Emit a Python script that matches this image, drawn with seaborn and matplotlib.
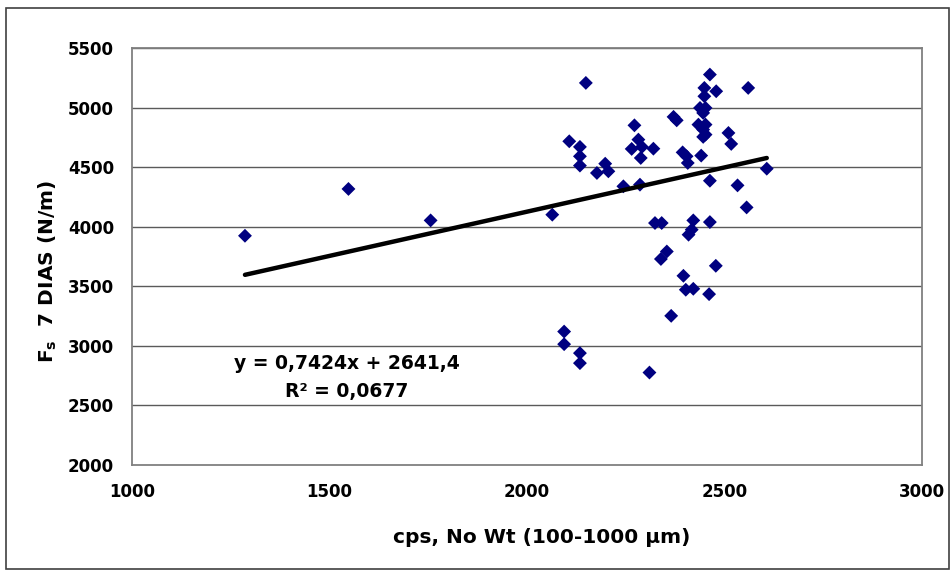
import matplotlib
matplotlib.use("Agg")
import matplotlib.pyplot as plt
import matplotlib.patches as mpatches
import numpy as np
import pandas as pd
import seaborn as sns

# ---- data ----
cps = [1286, 1548, 1756, 2064,
       2149, 2107, 2134, 2134, 2134, 2177, 2198, 2206, 2244, 2286,
       2272, 2282, 2265, 2291, 2320, 2288, 2324, 2341, 2354, 2339,
       2396, 2402, 2421, 2461, 2478, 2365, 2094, 2094, 2134, 2134,
       2310, 2421, 2417, 2409, 2463, 2463, 2533, 2556, 2607, 2560,
       2463, 2449, 2479, 2449, 2438, 2452, 2446, 2371, 2379, 2434,
       2452, 2446, 2452, 2446, 2510, 2517, 2394, 2404, 2407, 2441]
fs7 = [3924, 4317, 4053, 4101,
       5207, 4717, 4670, 4591, 4513, 4451, 4529, 4465, 4339, 4353,
       4851, 4731, 4653, 4670, 4655, 4577, 4031, 4031, 3792, 3729,
       3588, 3471, 3479, 3434, 3672, 3252, 3120, 3014, 2939, 2855,
       2776, 4053, 3975, 3933, 4039, 4386, 4347, 4162, 4487, 5165,
       5277, 5165, 5137, 5095, 4997, 4997, 4955, 4922, 4893, 4857,
       4857, 4815, 4773, 4754, 4787, 4695, 4624, 4591, 4535, 4597]
slope = 0.7424
intercept = 2641.4
x_ticks = [1000, 1500, 2000, 2500, 3000]
y_ticks = [2000, 2500, 3000, 3500, 4000, 4500, 5000, 5500]
x_label = "cps, No Wt (100-1000 \u00b5m)"
y_label = r"F$_\mathregular{s}$  7 DIAS (N/m)"
eq_line1 = "y = 0,7424x + 2641,4"
eq_line2 = "R\u00b2 = 0,0677"

df = pd.DataFrame({"cps": cps, "fs": fs7})

sns.set_style("white")
plt.rcParams["font.family"] = ["DejaVu Sans"]
plt.rcParams["font.weight"] = "bold"
plt.rcParams["mathtext.fontset"] = "dejavusans"
plt.rcParams["text.color"] = "black"
plt.rcParams["axes.labelcolor"] = "black"

fig = plt.figure(figsize=(9.53, 5.70), dpi=100)
ax = fig.add_axes([132 / 953, 1 - 465 / 570, (922 - 132) / 953, (465 - 48) / 570])

# gridlines
for yt in y_ticks[1:]:
    ax.axhline(yt, color="#5a5a5a", lw=1.0, zorder=0)

sns.scatterplot(data=df, x="cps", y="fs", marker="D", s=50, color="#000080",
                edgecolor="none", linewidth=0, ax=ax, zorder=3)

xl = np.array([min(cps), max(cps)])
ax.plot(xl, slope * xl + intercept, color="black", lw=3.2, zorder=4,
        solid_capstyle="round")

ax.text(1544, 2804, eq_line1, ha="center", va="baseline", fontsize=13.5,
        fontweight="bold", color="black")
ax.text(1544, 2574, eq_line2, ha="center", va="baseline", fontsize=13.5,
        fontweight="bold", color="black")

ax.set_xlim(1000, 3000)
ax.set_ylim(2000, 5500)
ax.set_xticks(x_ticks)
ax.set_yticks(y_ticks)
ax.tick_params(axis="both", direction="out", length=5, width=1, color="#606060",
               labelcolor="black", labelsize=12)
ax.tick_params(axis="x", pad=8)
ax.tick_params(axis="y", pad=8)
for lab in ax.get_xticklabels() + ax.get_yticklabels():
    lab.set_fontweight("bold")

for sp in ax.spines.values():
    sp.set_color("#808080")
    sp.set_linewidth(1.3)

ax.set_xlabel(x_label, fontsize=14.5, fontweight="bold", color="black")
ax.xaxis.label.set_va("baseline")
ax.xaxis.set_label_coords(0.518, -0.187)
ax.set_ylabel(y_label, fontsize=14.5, fontweight="bold", color="black")
ax.yaxis.label.set_va("center")
ax.yaxis.set_label_coords(-0.106, 0.465)

# outer chart border
fig.patches.append(mpatches.Rectangle((6 / 953, 1 / 570), (949 - 6) / 953, (562 - 1) / 570,
                                      transform=fig.transFigure, fill=False,
                                      edgecolor="#404040", lw=1.2))

fig.savefig("out.png", dpi=100, facecolor="white")
